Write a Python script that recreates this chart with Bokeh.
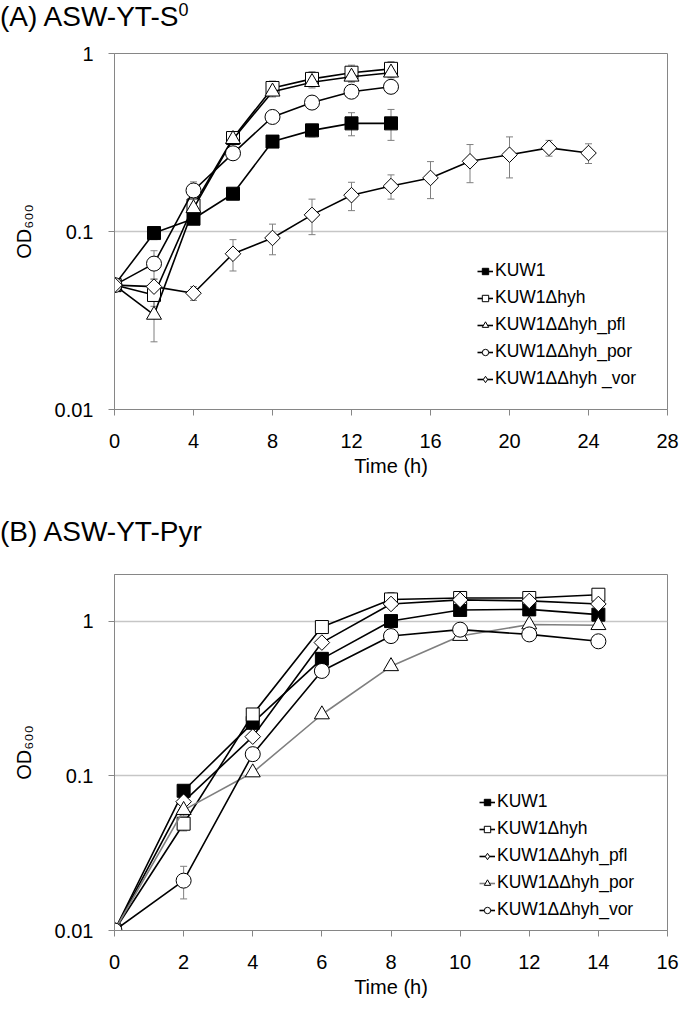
from bokeh.plotting import figure
from bokeh.models import (FixedTicker, CustomJSTickFormatter, Whisker, ColumnDataSource,
                          Legend, LegendItem, TeeHead, Range1d, Div)
from bokeh.layouts import column
from bokeh.embed import file_html
from bokeh.resources import INLINE

# ---------------- data ----------------
# Panel A: ASW-YT-S0
tA = [0, 2, 4, 6, 8, 10, 12, 14]
tA_vor = [0, 2, 4, 6, 8, 10, 12, 14, 16, 18, 20, 22, 24]
A_kuw1 = [0.05, 0.098, 0.118, 0.163, 0.32, 0.37, 0.405, 0.405]
A_kuw1_err = [0, 0.008, 0.006, 0.006, 0.02, 0.03, 0.06, 0.08]
A_hyh = [0.05, 0.044, 0.14, 0.335, 0.64, 0.72, 0.78, 0.82]
A_hyh_err = [0, 0.006, 0.015, 0.02, 0.06, 0.07, 0.08, 0.08]
A_pfl = [0.05, 0.034, 0.135, 0.33, 0.61, 0.69, 0.74, 0.78]
A_pfl_err = [0, 0.01, 0.01, 0.02, 0.04, 0.05, 0.05, 0.05]
A_por = [0.05, 0.066, 0.17, 0.275, 0.44, 0.53, 0.61, 0.65]
A_por_err = [0, 0.012, 0.02, 0.01, 0.01, 0.01, 0.01, 0.01]
A_vor = [0.05, 0.049, 0.045, 0.075, 0.092, 0.124, 0.16, 0.18, 0.20, 0.248, 0.27, 0.295, 0.276]
A_vor_err = [0, 0.005, 0.004, 0.015, 0.018, 0.028, 0.029, 0.028, 0.047, 0.06, 0.07, 0.03, 0.035]

# Panel B: ASW-YT-Pyr
tB = [0, 2, 4, 6, 8, 10, 12, 14]
B_kuw1 = [0.01, 0.080, 0.22, 0.57, 1.0, 1.18, 1.19, 1.10]
B_kuw1_err = [0, 0.005, 0.02, 0.05, 0.05, 0.03, 0.03, 0.03]
B_hyh = [0.01, 0.049, 0.249, 0.915, 1.38, 1.41, 1.41, 1.48]
B_hyh_err = [0, 0.005, 0.02, 0.03, 0.15, 0.05, 0.05, 0.05]
B_pfl = [0.01, 0.068, 0.179, 0.726, 1.29, 1.37, 1.35, 1.29]
B_pfl_err = [0, 0.004, 0.01, 0.02, 0.03, 0.03, 0.03, 0.03]
B_por = [0.01, 0.060, 0.105, 0.249, 0.51, 0.80, 0.95, 0.94]
B_por_err = [0, 0.005, 0.005, 0.01, 0.02, 0.02, 0.03, 0.02]
B_vor = [0.01, 0.021, 0.138, 0.476, 0.80, 0.88, 0.82, 0.74]
B_vor_err = [0, 0.005, 0.01, 0.02, 0.02, 0.02, 0.02, 0.02]

labels_A = ["KUW1", "KUW1\u0394hyh", "KUW1\u0394\u0394hyh_pfl", "KUW1\u0394\u0394hyh_por", "KUW1\u0394\u0394hyh _vor"]
labels_B = ["KUW1", "KUW1\u0394hyh", "KUW1\u0394\u0394hyh_pfl", "KUW1\u0394\u0394hyh_por", "KUW1\u0394\u0394hyh_vor"]
y_ticks = [0.01, 0.1, 1]

FONT = "Liberation Sans"
GRAY = "#7f7f7f"
AXIS = "#868686"

MARK = {
    "fsq": dict(marker="square", size=13, fill_color="black", angle=0),
    "osq": dict(marker="square", size=13, fill_color="white", angle=0),
    "tri": dict(marker="triangle", size=15, fill_color="white", angle=0),
    "cir": dict(marker="circle", size=15, fill_color="white", angle=0),
    "dia": dict(marker="square", size=11, fill_color="white", angle=0.785398),
}

TITLE_STYLE = {"font-family": FONT, "font-size": "28px", "line-height": "32px",
               "color": "black", "white-space": "nowrap", "margin": "0", "padding": "0"}


def make_title(html, height, pad_top):
    return Div(text='<div style="padding-top:%dpx">%s</div>' % (pad_top, html),
               width=680, height=height, margin=(0, 0, 0, 0), styles=TITLE_STYLE)


def make_fig(height, xmax, xstep, ymax, min_top, min_bottom):
    p = figure(width=680, height=height, x_range=Range1d(0, xmax), y_range=Range1d(0.01, ymax),
               y_axis_type="log", output_backend="svg", toolbar_location=None,
               min_border_left=114, min_border_right=13, min_border_top=min_top,
               min_border_bottom=min_bottom, margin=(0, 0, 0, 0))
    p.outline_line_color = AXIS
    p.outline_line_width = 1
    p.background_fill_color = "white"
    p.border_fill_color = "white"

    p.xaxis.ticker = FixedTicker(ticks=list(range(0, xmax + 1, xstep)))
    p.yaxis.ticker = FixedTicker(ticks=y_ticks, minor_ticks=[])
    p.yaxis.formatter = CustomJSTickFormatter(code="return tick.toString();")
    p.xgrid.visible = False
    p.ygrid.ticker = FixedTicker(ticks=y_ticks, minor_ticks=[])
    p.ygrid.grid_line_color = "#c6c6c6"
    p.ygrid.grid_line_width = 1.3
    for ax in (p.xaxis[0], p.yaxis[0]):
        ax.axis_line_color = AXIS
        ax.major_tick_line_color = AXIS
        ax.minor_tick_line_color = None
        ax.major_tick_in = 0
        ax.major_tick_out = 6
        ax.major_label_text_font = FONT
        ax.major_label_text_font_size = "20px"
        ax.major_label_text_color = "black"
        ax.axis_label_text_font = FONT
        ax.axis_label_text_font_size = "20px"
        ax.axis_label_text_font_style = "normal"
        ax.axis_label_text_color = "black"
    p.xaxis.major_label_standoff = 18
    p.yaxis.major_label_standoff = 15
    p.xaxis.axis_label = "Time (h)"
    p.xaxis.axis_label_standoff = 4
    p.yaxis.axis_label = "OD\u2086\u2080\u2080"
    p.yaxis.axis_label_standoff = 17
    return p


def add_series(p, t, y, err, mk, line_color="black"):
    lower = [max(v - e, 1e-4) for v, e in zip(y, err)]
    upper = [v + e for v, e in zip(y, err)]
    src = ColumnDataSource(dict(t=t, y=y, lower=lower, upper=upper))
    w = Whisker(source=src, base="t", upper="upper", lower="lower", line_color=GRAY, line_width=1,
                upper_head=TeeHead(size=7, line_color=GRAY, line_width=1),
                lower_head=TeeHead(size=7, line_color=GRAY, line_width=1), level="underlay")
    p.add_layout(w)
    ln = p.line("t", "y", source=src, line_color=line_color, line_width=1.6)
    m = MARK[mk]
    sc = p.scatter("t", "y", source=src, marker=m["marker"], size=m["size"], angle=m["angle"],
                   fill_color=m["fill_color"], line_color="black", line_width=1)
    if mk == "dia":
        # legend-only renderers (legend glyphs ignore marker angle)
        dsrc = ColumnDataSource(dict(t=[float("nan")], y=[float("nan")]))
        dl = p.line("t", "y", source=dsrc, line_color=line_color, line_width=1.6)
        ds = p.scatter("t", "y", source=dsrc, marker="diamond", size=15, fill_color="white",
                       line_color="black", line_width=1)
        return [dl, ds]
    return [ln, sc]


def add_legend(p, items, loc):
    leg = Legend(items=items, location=loc, border_line_color=None, background_fill_alpha=0,
                 padding=0, margin=0, spacing=6, glyph_height=16, glyph_width=16,
                 label_height=20, label_standoff=2, label_text_font=FONT,
                 label_text_font_size="17.5px", label_text_color="black")
    p.add_layout(leg)


# Title A: page y 0..34 ; Panel A frame: page y 53..409 (figure 34..490)
tA_div = make_title('(A) ASW-YT-S<span style="font-size:18px; vertical-align:super; line-height:0">0</span>', 34, 1)
pA = make_fig(456, 28, 4, 1.0, 19, 81)
rA = [
    add_series(pA, tA, A_kuw1, A_kuw1_err, "fsq"),
    add_series(pA, tA, A_hyh, A_hyh_err, "osq"),
    add_series(pA, tA, A_pfl, A_pfl_err, "tri"),
    add_series(pA, tA, A_por, A_por_err, "cir"),
    add_series(pA, tA_vor, A_vor, A_vor_err, "dia"),
]
add_legend(pA, [LegendItem(label=l, renderers=r) for l, r in zip(labels_A, rA)], (363, 20))

# Title B: page y 490..550 ; Panel B frame: page y 574..930 (figure 550..1008)
tB_div = make_title("(B) ASW-YT-Pyr", 60, 26)
pB = make_fig(458, 16, 2, 2.0, 24, 78)
rB = [
    add_series(pB, tB, B_kuw1, B_kuw1_err, "fsq"),
    add_series(pB, tB, B_hyh, B_hyh_err, "osq"),
    add_series(pB, tB, B_pfl, B_pfl_err, "dia"),
    add_series(pB, tB, B_por, B_por_err, "tri", line_color=GRAY),
    add_series(pB, tB, B_vor, B_vor_err, "cir"),
]
add_legend(pB, [LegendItem(label=l, renderers=r) for l, r in zip(labels_B, rB)], (365, 10))

layout = column(tA_div, pA, tB_div, pB, spacing=0)
open("out.html", "w").write(file_html(layout, INLINE))
